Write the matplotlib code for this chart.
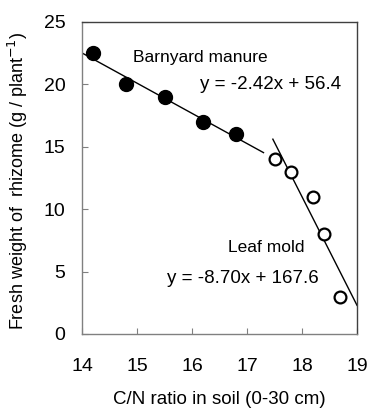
import matplotlib.pyplot as plt
import numpy as np

plt.rcParams['font.family'] = ['Liberation Sans', 'DejaVu Sans']

# Barnyard manure (filled)
manure_cn = [14.2, 14.8, 15.5, 16.2, 16.8]
manure_wt = [22.5, 20.0, 19.0, 17.0, 16.0]
# Leaf mold (open)
mold_cn = [17.5, 17.8, 18.2, 18.4, 18.7]
mold_wt = [14.0, 13.0, 11.0, 8.0, 3.0]

manure_fit = (-2.42, 56.4)
mold_fit = (-8.70, 167.6)

fig = plt.figure(figsize=(3.7, 4.13), dpi=100)
ax = fig.add_axes([82 / 370, 1 - 334 / 413, 275 / 370, 312 / 413])

x1 = np.array([14.0, 17.3])
ax.plot(x1, manure_fit[0] * x1 + manure_fit[1], color="black", linewidth=1)
x2 = np.array([17.47, 19.0])
ax.plot(x2, mold_fit[0] * x2 + mold_fit[1], color="black", linewidth=1)

ax.plot(manure_cn, manure_wt, "o", color="black", markersize=10, zorder=3)
ax.plot(mold_cn, mold_wt, "o", markerfacecolor="white", markeredgecolor="black",
        markersize=8.5, markeredgewidth=1.6, zorder=3)

ax.text(14.93, 21.8, "Barnyard manure", fontsize=12.5)
ax.text(16.15, 19.6, "y = -2.42x + 56.4", fontsize=13.5)
ax.text(16.65, 6.57, "Leaf mold", fontsize=12.5)
ax.text(15.55, 4.09, "y = -8.70x + 167.6", fontsize=13.5)

ax.set_xlim(14, 19)
ax.set_ylim(0, 25)
ax.set_xticks([14, 15, 16, 17, 18, 19])
ax.set_yticks([0, 5, 10, 15, 20, 25])
ax.tick_params(direction="in", length=4, width=0.8, color="#808080",
               labelsize=14, pad=17)
ax.tick_params(axis="y", pad=12)
for s in ax.spines.values():
    s.set_color("#808080")
    s.set_linewidth(1)
ax.spines["top"].set_color("#404040")
ax.spines["right"].set_color("#404040")

ax.set_xlabel("C/N ratio in soil (0-30 cm)", fontsize=13.5, labelpad=12)
ax.set_ylabel("Fresh weight of  rhizome (g / plant$^{-1}$)", fontsize=13)
ax.yaxis.set_label_coords(-0.19, 0.49)

fig.savefig("out.png", dpi=100)
